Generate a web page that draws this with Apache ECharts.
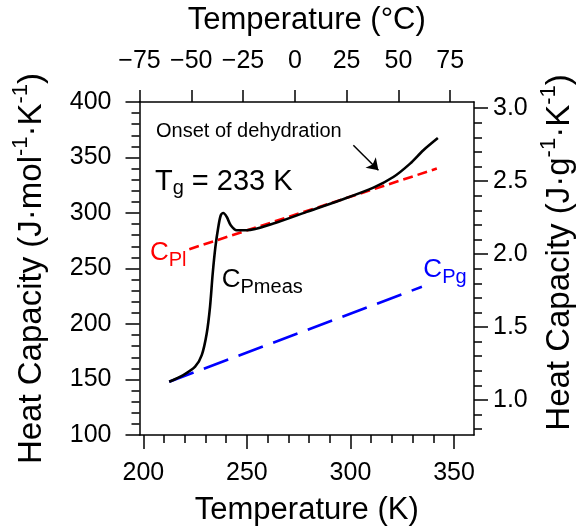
<!DOCTYPE html>
<html><head><meta charset="utf-8">
<script src="https://cdn.jsdelivr.net/npm/echarts@6/dist/echarts.min.js"></script>
<style>html,body{margin:0;padding:0;background:#fff}#c{width:579px;height:529px}</style>
</head><body><div id="c"></div>
<script>
// ---- data ----
const measTemps = [212.5, 219.3, 225.0, 228.2, 230.6, 232.2, 233.5, 234.8, 236.2, 237.4, 238.6, 240.3, 242.2, 245.1, 249.9, 262.8, 278.9, 295.0, 311.1, 320.7, 328.8, 335.2, 342.2];
const measCp    = [148, 154, 161.5, 172, 191.5, 215.5, 245.5, 269.4, 287.4, 298, 300, 296.4, 289, 284.5, 284.5, 290.5, 301, 311.5, 322.9, 332.4, 344.5, 356.5, 367.5];
const liquidTemps = [222.2, 341.7];
const liquidCp    = [267.4, 340];
const glassTemps  = [212.5, 334.5];
const glassCp     = [148, 233.5];
const arrowTemps  = [301.4, 313.5];
const arrowCp     = [361, 338.5];
const kelvinTicks = [200, 250, 300, 350];
const kelvinMinorTicks = [200, 210, 220, 230, 240, 250, 260, 270, 280, 290, 300, 310, 320, 330, 340, 350];
const celsiusTicks = [-75, -50, -25, 0, 25, 50, 75];
const gramTicks = [1.0, 1.5, 2.0, 2.5, 3.0];
const gramMinorTicks = [0.8, 0.9, 1.0, 1.1, 1.2, 1.3, 1.4, 1.5, 1.6, 1.7, 1.8, 1.9, 2.0, 2.1, 2.2, 2.3, 2.4, 2.5, 2.6, 2.7, 2.8, 2.9, 3.0];
const molarMass = 131.5;
const cMin = -75, cMax = 86.5;
const kOffset = 273.15;
const cpMin = 100, cpMax = 400;

// ---- chart ----
const FF = 'Liberation Sans, Arial, Helvetica, sans-serif';
const BLK = '#000';
const chart = echarts.init(document.getElementById('c'), null, {renderer: 'canvas'});

const axisLineS = {show: true, onZero: false, lineStyle: {color: BLK, width: 1.5}};
const nameRich = {
  m: {fontSize: 33, lineHeight: 34, fontFamily: FF, color: BLK},
  s: {fontSize: 22, lineHeight: 22, padding: [0, 0, 22, 0], fontFamily: FF, color: BLK}
};
function subRich(color, mainSize, subSize, shift) {
  return {
    m: {fontSize: mainSize, lineHeight: mainSize + 2, fontFamily: FF, color: color},
    s: {fontSize: subSize, lineHeight: subSize, padding: [shift * 2, 0, 0, 0], fontFamily: FF, color: color}
  };
}

const option = {
  animation: false,
  backgroundColor: '#fff',
  textStyle: {fontFamily: FF, color: BLK},
  grid: {left: 139.5, right: 105, top: 102, bottom: 94, containLabel: false, outerBoundsMode: 'none'},
  xAxis: [
    {
      type: 'value', position: 'bottom', min: cMin + kOffset, max: cMax + kOffset,
      axisLine: axisLineS,
      axisTick: {show: true, customValues: kelvinTicks, length: 14, inside: false, lineStyle: {color: BLK, width: 1.5}},
      axisLabel: {show: true, customValues: kelvinTicks, fontSize: 25, margin: 26, color: BLK, fontFamily: FF},
      splitLine: {show: false},
      name: 'Temperature (K)', nameLocation: 'middle', nameGap: 60, nameMoveOverlap: false,
      nameTextStyle: {fontSize: 31, color: BLK, fontFamily: FF}
    },
    {
      type: 'value', position: 'bottom', min: cMin + kOffset, max: cMax + kOffset,
      axisLine: {show: false, onZero: false},
      axisTick: {show: true, customValues: kelvinMinorTicks, length: 8, inside: false, lineStyle: {color: BLK, width: 1.5}},
      axisLabel: {show: false}, splitLine: {show: false}
    },
    {
      type: 'value', position: 'top', min: cMin, max: cMax,
      axisLine: axisLineS,
      axisTick: {show: true, customValues: celsiusTicks, length: 12, inside: false, lineStyle: {color: BLK, width: 1.5}},
      axisLabel: {show: true, customValues: celsiusTicks, fontSize: 25, margin: 28, color: BLK, fontFamily: FF,
        formatter: v => String(Math.round(v)).replace('-', '\u2212')},
      splitLine: {show: false},
      name: 'Temperature (\u00B0C)', nameLocation: 'middle', nameGap: 66, nameMoveOverlap: false,
      nameTextStyle: {fontSize: 31, color: BLK, fontFamily: FF}
    }
  ],
  yAxis: [
    {
      type: 'value', position: 'left', min: cpMin, max: cpMax, interval: 50,
      axisLine: axisLineS,
      axisTick: {show: true, length: 14, inside: false, lineStyle: {color: BLK, width: 1.5}},
      minorTick: {show: true, splitNumber: 5, length: 8, lineStyle: {color: BLK, width: 1.5}},
      axisLabel: {show: true, fontSize: 25, margin: 28, color: BLK, fontFamily: FF},
      splitLine: {show: false}, minorSplitLine: {show: false},
      name: '{m|Heat Capacity (J\u00B7mol}{s|-1}{m|\u00B7K}{s|-1}{m|)}',
      nameLocation: 'middle', nameRotate: 90, nameGap: 91, nameMoveOverlap: false,
      nameTextStyle: {fontSize: 33, color: BLK, fontFamily: FF, rich: nameRich}
    },
    {
      type: 'value', position: 'right', min: cpMin / molarMass, max: cpMax / molarMass,
      axisLine: axisLineS,
      axisTick: {show: true, customValues: gramTicks, length: 14, inside: false, lineStyle: {color: BLK, width: 1.5}},
      axisLabel: {show: true, customValues: gramTicks, fontSize: 25, margin: 19, color: BLK, fontFamily: FF,
        formatter: v => Number(v).toFixed(1)},
      splitLine: {show: false},
      name: '{m|Heat Capacity (J\u00B7g}{s|-1}{m|\u00B7K}{s|-1}{m|)}',
      nameLocation: 'middle', nameRotate: 90, nameGap: 69, nameMoveOverlap: false,
      nameTextStyle: {fontSize: 33, color: BLK, fontFamily: FF, rich: nameRich, padding: [0, 0, 0, 32]}
    },
    {
      type: 'value', position: 'right', min: cpMin / molarMass, max: cpMax / molarMass,
      axisLine: {show: false, onZero: false},
      axisTick: {show: true, customValues: gramMinorTicks, length: 8, inside: false, lineStyle: {color: BLK, width: 1.5}},
      axisLabel: {show: false}, splitLine: {show: false}
    }
  ],
  series: [
    {
      name: 'CPg', type: 'line', xAxisIndex: 0, yAxisIndex: 0, showSymbol: false, symbol: 'none',
      data: glassTemps.map((t, i) => [t, glassCp[i]]),
      lineStyle: {color: '#0000ff', width: 2.6, type: [26, 11]}, z: 2
    },
    {
      name: 'CPl', type: 'line', xAxisIndex: 0, yAxisIndex: 0, showSymbol: false, symbol: 'none',
      data: liquidTemps.map((t, i) => [t, liquidCp[i]]),
      lineStyle: {color: '#ff0000', width: 2.6, type: [10, 5]}, z: 3
    },
    {
      name: 'CPmeas', type: 'line', xAxisIndex: 0, yAxisIndex: 0, showSymbol: false, symbol: 'none',
      smooth: 0.3,
      data: measTemps.map((t, i) => [t, measCp[i]]),
      lineStyle: {color: BLK, width: 2.6}, z: 4
    },
    {
      type: 'lines', coordinateSystem: 'cartesian2d', xAxisIndex: 0, yAxisIndex: 0,
      symbol: ['none', 'arrow'], symbolSize: 11,
      lineStyle: {color: BLK, width: 1.5, opacity: 1, curveness: 0},
      data: [{coords: [[arrowTemps[0], arrowCp[0]], [arrowTemps[1], arrowCp[1]]]}], z: 5
    },
    {
      type: 'scatter', xAxisIndex: 0, yAxisIndex: 0, symbolSize: 0, z: 6,
      itemStyle: {opacity: 1},
      label: {show: true, position: 'right', distance: 0, color: BLK, opacity: 1, fontFamily: FF},
      data: [
        {value: [206.1, 373.6], label: {formatter: 'Onset of dehydration', fontSize: 20, color: BLK}},
        {value: [205.6, 327.9], label: {formatter: '{m|T}{s|g}{m| = 233 K}', rich: subRich(BLK, 29, 20, 6)}},
        {value: [203.2, 264.2], label: {formatter: '{m|C}{s|Pl}', rich: subRich('#ff0000', 26, 20, 8)}},
        {value: [237.85, 240.2], label: {formatter: '{m|C}{s|Pmeas}', rich: subRich(BLK, 26, 20, 8)}},
        {value: [335.2, 249.2], label: {formatter: '{m|C}{s|Pg}', rich: subRich('#0000ff', 26, 20, 8)}}
      ]
    }
  ]
};
chart.setOption(option);
</script>
</body></html>
